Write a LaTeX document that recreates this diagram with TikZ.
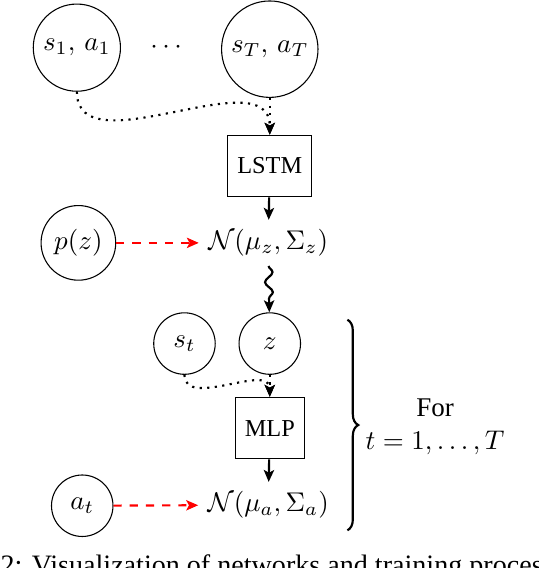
\documentclass[tikz,border=0pt]{standalone}
\usepackage[no-math]{fontspec}
\setmainfont{Liberation Serif}
\usepackage{amsmath}
\usepackage{amssymb}
\usetikzlibrary{arrows.meta,decorations.pathmorphing,decorations.pathreplacing}

\begin{document}
\begin{tikzpicture}[>={Stealth[length=4.4pt,width=3.8pt,inset=1pt]},
        var/.style={circle,draw,minimum size=0.8cm,inner sep=2.6pt},
        net/.style={rectangle,draw,minimum height=0.8cm,inner sep=3.6pt,font=\fontsize{9}{11}\selectfont},
        flow/.style={->,thick},
        feed/.style={->,thick,dotted},
        prior/.style={->,thick,red,dashed}]
        \useasboundingbox (0,0) rectangle (7.0,7.39);
        \clip (0,0) rectangle (7.0,7.39);
        % encoder part
        \node[var] (sa1) at (1.00,6.77) {$s_1,\,a_1$};
        \node (dots) at (2.19,6.77) {$\cdots$};
        \node[var] (saT) at (3.51,6.75) {$s_T,\,a_T$};
        \node[net] (lstm) at (3.51,5.23) {LSTM};
        \node (Nz) at (3.49,4.23) {$\mathcal{N}(\mu_z,\Sigma_z)$};
        \node[var] (pz) at (1.02,4.23) {$p(z)$};
        \draw[feed] (sa1.south) to[out=-90,in=90] (lstm.north);
        \draw[feed] (saT.south) -- (lstm.north);
        \draw[flow] (lstm) -- (Nz);
        \draw[prior] (pz) -- (Nz);
        % decoder part
        \node[var] (z) at (3.51,2.92) {$z$};
        \node[var] (st) at (2.40,2.92) {$s_t$};
        \node[net] (mlp) at (3.51,1.82) {MLP};
        \node (Na) at (3.49,0.82) {$\mathcal{N}(\mu_a,\Sigma_a)$};
        \node[var] (at) at (1.07,0.81) {$a_t$};
        \draw[flow,decorate,decoration={snake,amplitude=0.5mm,segment length=2.6mm,post length=1.6mm}] (Nz) -- (z);
        \draw[feed] (st.south) to[out=-90,in=90] (mlp.north);
        \draw[feed] (z.south) -- (mlp.north);
        \draw[flow] (mlp) -- (Na);
        \draw[prior] (at) -- (Na);
        % loop over time steps
        \draw[thick,decorate,decoration={brace,amplitude=4pt}] (4.52,3.23) -- (4.52,0.49);
        \node[align=center] (loop) at (5.66,1.84) {For\\$t=1,\ldots,T$};
        \node[anchor=base west,inner sep=0pt,font=\fontsize{10.4}{12}\selectfont] (caption) at (0.0,-0.09) {\llap{Figure~}2: Visualization of networks and training process};
    \end{tikzpicture}
\end{document}
